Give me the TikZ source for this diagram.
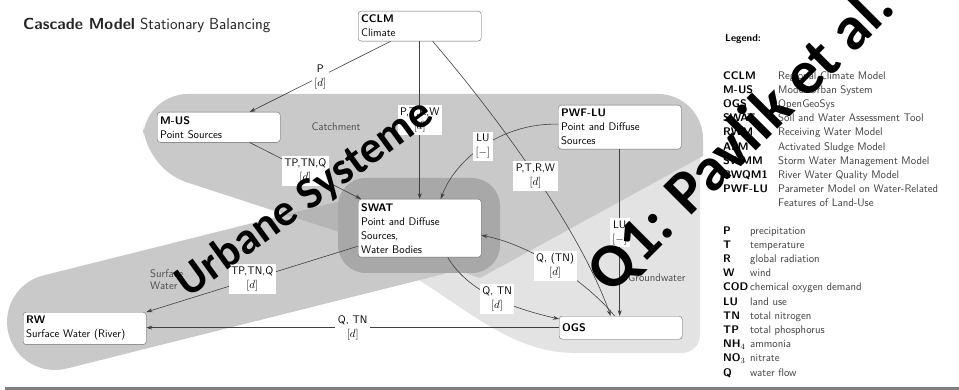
\documentclass[tikz,border=0pt]{standalone}
\usepackage{amsmath,amssymb}
\usepackage{xcolor}
\usepackage{fontspec}
\newfontfamily\markfont{Carlito}
\renewcommand{\familydefault}{\sfdefault}
\usepackage{tikz}
\usetikzlibrary{arrows.meta,positioning,calc}

\definecolor{groundgray}{gray}{0.89}
\definecolor{catchgray}{gray}{0.79}
\definecolor{bandgray}{gray}{0.79}
\definecolor{overlapgray}{gray}{0.71}
\definecolor{swatgray}{gray}{0.66}
\newcommand{\catchmentpath}{(480,278) -- (703,156) [rounded corners=45pt] -- (703,94) -- (143,94) -- (143,168) [sharp corners] -- cycle}

\begin{document}
\begin{tikzpicture}[x=1pt,y=-1pt,
  model/.style={draw=black!60,fill=white,rounded corners=3pt,text width=117pt,inner xsep=3pt,inner ysep=4pt,align=left,anchor=north west,font=\fontsize{11}{14}\selectfont},
  flow/.style={-{Stealth[length=6pt,width=4pt]},line width=0.6pt,draw=black!75},
  lbl/.style={fill=white,inner sep=2.5pt,align=center,font=\fontsize{11}{14}\selectfont},
  zone/.style={text=black!70,font=\fontsize{11}{12}\selectfont}]
\useasboundingbox (0,0) rectangle (959,390);

\fill[groundgray, rounded corners=18pt] (360,250) .. controls (450,290) and (500,352) .. (590,353) -- (700,353) -- (700,140) -- (470,140) -- cycle;
\fill[catchgray] \catchmentpath;
\draw[bandgray, line width=96pt, line cap=round] (55,322) -- (430,228);
\begin{scope}
  \clip \catchmentpath;
  \draw[overlapgray, line width=96pt, line cap=round] (55,322) -- (430,228);
\end{scope}
\fill[swatgray, rounded corners=28pt] (338,178) rectangle (500,273);

\node[zone] (catchlbl) at (336,127) {Catchment};
\node[zone, align=left, anchor=north west, inner sep=0pt] (surflbl) at (150,269) {Surface\\Water};
\node[zone, anchor=base west, inner sep=0pt] (gwlbl) at (628,282) {Groundwater};

\node[model] (cclm) at (358,11) {\textbf{CCLM}\\Climate};
\node[model] (mus) at (157,112) {\textbf{M-US}\\Point Sources};
\node[model] (pwf) at (558,105) {\textbf{PWF-LU}\\Point and Diffuse\\Sources};
\node[model] (swat) at (358,199) {\textbf{SWAT}\\Point and Diffuse\\Sources,\\Water Bodies};
\node[model, minimum height=23pt] (ogs) at (559,316) {\textbf{OGS}};
\node[model] (rw) at (23,312) {\textbf{RW}\\Surface Water (River)};

\draw[flow] ([xshift=-29pt]cclm.south) -- node[lbl]{P\\$[d]$} ([xshift=31pt]mus.north);
\draw[flow] (cclm.south) -- node[lbl]{P,T,R,W\\$[d]$} (cclm.south |- swat.north);
\draw[flow] ([xshift=13pt]cclm.south) .. controls (500,120) and (580,230) .. ([xshift=-10pt]ogs.north) node[lbl,midway]{P,T,R,W\\$[d]$};
\draw[flow] ([yshift=3pt]pwf.west) .. controls (500,123) and (455,160) .. ([xshift=21pt]swat.north) node[lbl,midway]{LU\\$[-]$};
\draw[flow] (pwf.south) -- node[lbl]{LU\\$[-]$} (pwf.south |- ogs.north);
\draw[flow] ([xshift=31pt]mus.south) -- node[lbl]{TP,TN,Q\\$[d]$} ([xshift=3pt]swat.north west);
\draw[flow] ([yshift=-18pt]swat.west) -- node[lbl]{TP,TN,Q\\$[d]$} (rw.north east);
\draw[flow] ([xshift=28pt]swat.south) .. controls (470,295) and (520,310) .. ([yshift=-3pt]ogs.north west) node[lbl,midway]{Q, TN\\$[d]$};
\draw[flow] ([xshift=-6pt]ogs.north) .. controls (585,280) and (530,245) .. ([yshift=-7pt]swat.east) node[lbl,midway]{Q, (TN)\\$[d]$};
\draw[flow] (ogs.west) -- node[lbl]{Q, TN\\$[d]$} (ogs.west -| rw.east);

\node[anchor=base west, inner sep=0pt, font=\fontsize{16}{19}\selectfont, text=black!85] (title) at (23,30) {\textbf{Cascade Model} Stationary Balancing};

\node[anchor=base west, inner sep=0pt, font=\fontsize{10}{12}\selectfont\bfseries] (legtitle) at (725,42) {Legend:};
\node[anchor=north west, inner sep=0pt, font=\fontsize{11}{14.2}\selectfont] (legmodels) at (723,69) {%
  \begin{tabular}{@{}p{55pt}@{}l@{}}
  \textbf{CCLM} & \textcolor{black!75}{Regional Climate Model}\\
  \textbf{M-US} & \textcolor{black!75}{Model Urban System}\\
  \textbf{OGS} & \textcolor{black!75}{OpenGeoSys}\\
  \textbf{SWAT} & \textcolor{black!75}{Soil and Water Assessment Tool}\\
  \textbf{RWM} & \textcolor{black!75}{Receiving Water Model}\\
  \textbf{ASM} & \textcolor{black!75}{Activated Sludge Model}\\
  \textbf{SWMM} & \textcolor{black!75}{Storm Water Management Model}\\
  \textbf{RWQM1} & \textcolor{black!75}{River Water Quality Model}\\
  \textbf{PWF-LU} & \textcolor{black!75}{Parameter Model on Water-Related}\\
   & \textcolor{black!75}{Features of Land-Use}
  \end{tabular}};
\node[anchor=north west, inner sep=0pt, font=\fontsize{11}{14.2}\selectfont] (legterms) at (723,224) {%
  \begin{tabular}{@{}p{27pt}@{}l@{}}
  \textbf{P} & \textcolor{black!75}{precipitation}\\
  \textbf{T} & \textcolor{black!75}{temperature}\\
  \textbf{R} & \textcolor{black!75}{global radiation}\\
  \textbf{W} & \textcolor{black!75}{wind}\\
  \textbf{COD} & \textcolor{black!75}{chemical oxygen demand}\\
  \textbf{LU} & \textcolor{black!75}{land use}\\
  \textbf{TN} & \textcolor{black!75}{total nitrogen}\\
  \textbf{TP} & \textcolor{black!75}{total phosphorus}\\
  \textbf{NH$_4$} & \textcolor{black!75}{ammonia}\\
  \textbf{NO$_3$} & \textcolor{black!75}{nitrate}\\
  \textbf{Q} & \textcolor{black!75}{water flow}
  \end{tabular}};

\fill[black!50] (5,386.5) rectangle (959,390);

\node[rotate=36, font={\markfont\fontsize{45}{45}\selectfont\bfseries}] (wmurban) at (305,199) {Urbane Systeme};
\node[rotate=45, font={\markfont\fontsize{62}{62}\selectfont\bfseries}] (wmquote) at (742,140) {Q1: Pavlik et al.};
\end{tikzpicture}
\end{document}
